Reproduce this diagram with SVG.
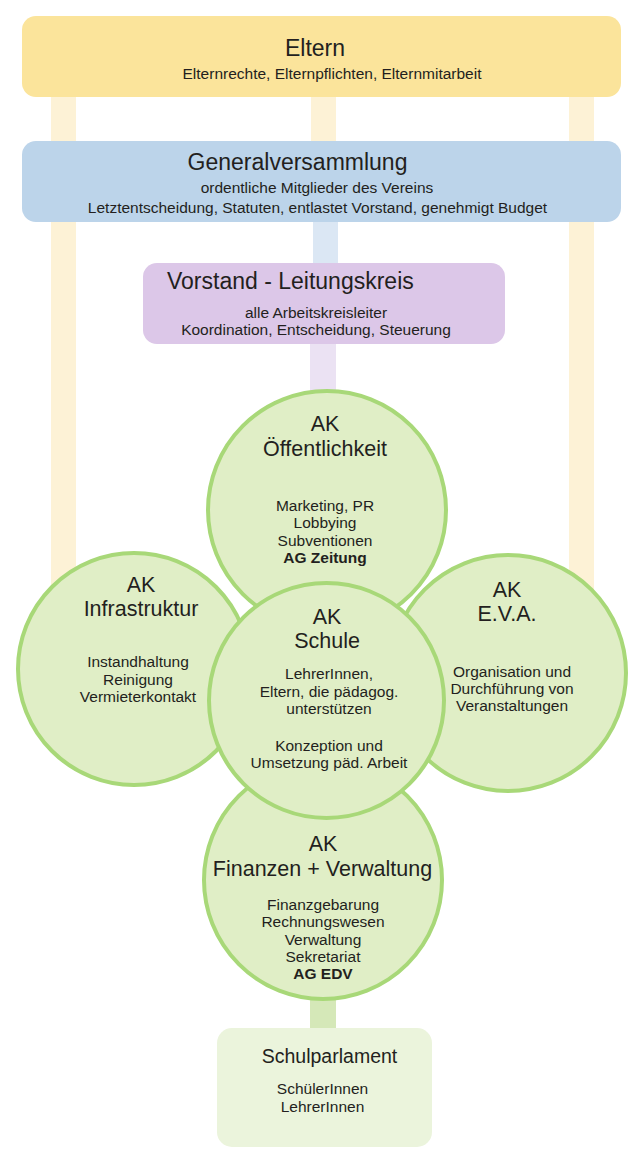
<svg xmlns="http://www.w3.org/2000/svg" width="643" height="1161" viewBox="0 0 643 1161">
<style>
text{font-family:"Liberation Sans",Arial,sans-serif;fill:#231f20}
.t{font-size:23px}
.ct{font-size:21.5px;text-anchor:middle}
.b{font-size:15.5px;text-anchor:middle}
.m{text-anchor:middle}
.bold{font-weight:bold}
.circ{fill:#e0eec6;stroke:#a8d878;stroke-width:4}
</style>
<rect width="643" height="1161" fill="#ffffff"/>
<g id="connectors">
<rect x="51" y="95" width="25" height="520" fill="#fdf2d6"/>
<rect x="569" y="95" width="25" height="530" fill="#fdf2d6"/>
<rect x="311" y="95" width="25" height="48" fill="#fdf2d6"/>
<rect x="313" y="219" width="25" height="46" fill="#dbe7f4"/>
<rect x="310" y="342" width="26" height="60" fill="#ebe2f3"/>
<rect x="310" y="990" width="26" height="40" fill="#d5e8b8"/>
</g>
<g id="eltern">
<rect x="22" y="16" width="599" height="81" rx="14" fill="#fbe49b"/>
<text class="t m" x="315" y="56">Eltern</text>
<text class="b" x="332" y="79">Elternrechte, Elternpflichten, Elternmitarbeit</text>
</g>
<g id="generalversammlung">
<rect x="22" y="141" width="599" height="81" rx="14" fill="#bcd4ea"/>
<text class="t m" x="297.5" y="170">Generalversammlung</text>
<text class="b" x="317" y="193">ordentliche Mitglieder des Vereins</text>
<text class="b" x="317.5" y="213">Letztentscheidung, Statuten, entlastet Vorstand, genehmigt Budget</text>
</g>
<g id="vorstand">
<rect x="143" y="263" width="362" height="81" rx="14" fill="#dcc7e8"/>
<text class="t" x="167" y="289">Vorstand - Leitungskreis</text>
<text class="b" x="316" y="318">alle Arbeitskreisleiter</text>
<text class="b" x="316" y="335">Koordination, Entscheidung, Steuerung</text>
</g>
<g id="ak-oeffentlichkeit">
<circle class="circ" cx="327" cy="510" r="119"/>
<text class="ct" x="325" y="431">AK</text>
<text class="ct" x="325" y="456">Öffentlichkeit</text>
<text class="b" x="325" y="511">Marketing, PR</text>
<text class="b" x="325" y="528">Lobbying</text>
<text class="b" x="325" y="546">Subventionen</text>
<text class="b bold" x="325" y="563">AG Zeitung</text>
</g>
<g id="ak-infrastruktur">
<circle class="circ" cx="134" cy="669" r="116"/>
<text class="ct" x="141" y="592">AK</text>
<text class="ct" x="141" y="616">Infrastruktur</text>
<text class="b" x="138" y="667">Instandhaltung</text>
<text class="b" x="138" y="685">Reinigung</text>
<text class="b" x="138" y="702">Vermieterkontakt</text>
</g>
<g id="ak-eva">
<circle class="circ" cx="508" cy="673" r="118"/>
<text class="ct" x="507" y="597">AK</text>
<text class="ct" x="507" y="621">E.V.A.</text>
<text class="b" x="512" y="677">Organisation und</text>
<text class="b" x="512" y="694">Durchführung von</text>
<text class="b" x="512" y="711">Veranstaltungen</text>
</g>
<g id="ak-finanzen">
<circle class="circ" cx="323" cy="880" r="119"/>
<text class="ct" x="323" y="851">AK</text>
<text class="ct" x="322.5" y="876">Finanzen + Verwaltung</text>
<text class="b" x="323" y="910">Finanzgebarung</text>
<text class="b" x="323" y="927">Rechnungswesen</text>
<text class="b" x="323" y="945">Verwaltung</text>
<text class="b" x="323" y="962">Sekretariat</text>
<text class="b bold" x="323" y="979">AG EDV</text>
</g>
<g id="ak-schule">
<circle class="circ" cx="326.5" cy="700.5" r="117.5"/>
<text class="ct" x="327" y="624">AK</text>
<text class="ct" x="327" y="648">Schule</text>
<text class="b" x="329" y="679">LehrerInnen,</text>
<text class="b" x="329" y="697">Eltern, die pädagog.</text>
<text class="b" x="329" y="714">unterstützen</text>
<text class="b" x="329" y="751">Konzeption und</text>
<text class="b" x="329" y="768">Umsetzung päd. Arbeit</text>
</g>
<g id="schulparlament">
<rect x="217" y="1028" width="215" height="119" rx="15" fill="#ebf4dc"/>
<text class="m" style="font-size:19.5px" x="329.5" y="1063">Schulparlament</text>
<text class="b" x="322.5" y="1094">SchülerInnen</text>
<text class="b" x="322.5" y="1112">LehrerInnen</text>
</g>
</svg>
